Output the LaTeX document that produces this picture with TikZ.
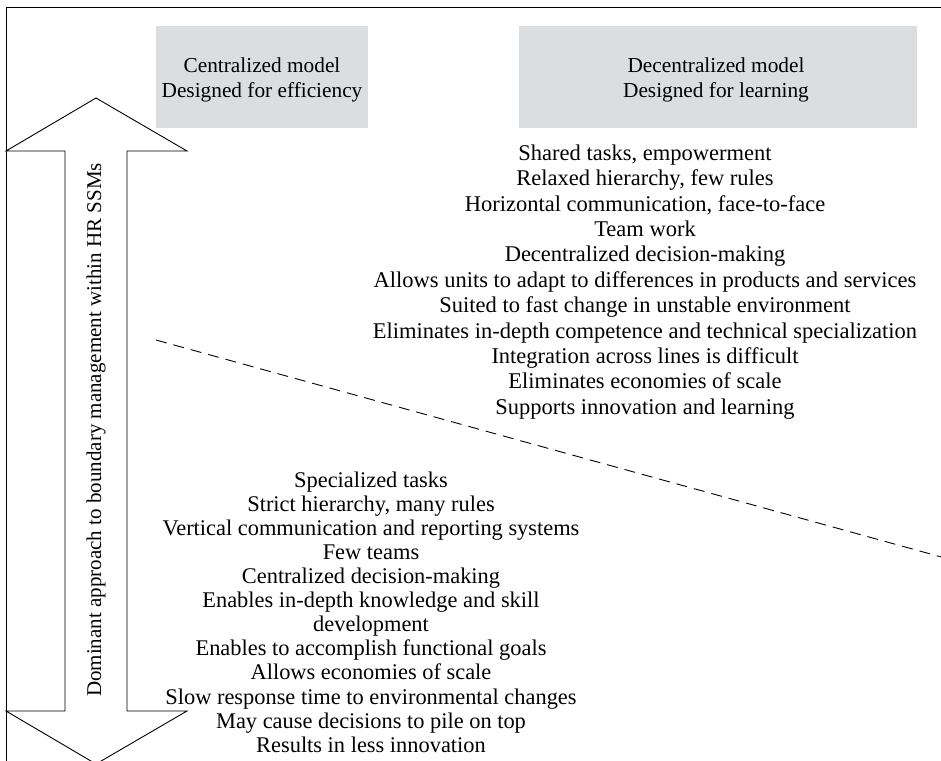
\documentclass[tikz,border=0pt]{standalone}
\usepackage{fontspec}
\setmainfont{Liberation Serif}
\definecolor{boxgray}{RGB}{220,221,223}
\begin{document}
\begin{tikzpicture}[x=1pt,y=-1pt,
  frameline/.style={draw=black,line width=0.9pt},
  headbox/.style={fill=boxgray,minimum width=#1,minimum height=102pt,inner sep=0pt,
    align=center},
  headtext/.style={align=center,inner sep=0pt,font=\fontsize{21.3}{25}\selectfont},
  listtext/.style={align=center,inner sep=0pt},
  splitline/.style={draw=black,line width=0.9pt,dash pattern=on 11pt off 7pt}]
\useasboundingbox (0,0) rectangle (941,760);
\clip (0,0) rectangle (941,760);
% outer frame (only top and left edges fall on the page)
\coordinate (frameTR) at (945,7);
\coordinate (frameTL) at (6,7);
\coordinate (frameBL) at (6,765);
\draw[frameline] (frameTR) -- (frameTL) -- (frameBL);
% column headings
\node[headbox=212pt] (central) at (262,77) {};
\node[headbox=398pt] (decentral) at (718,77) {};
\node[headtext] (centraltxt) at (262,80) {Centralized model\\Designed for efficiency};
\node[headtext] (decentraltxt) at (716,80) {Decentralized model\\Designed for learning};
% double-headed block arrow
\draw[frameline,fill=white] (96,98) -- (187,151) -- (127,151) -- (127,711) -- (187,711)
  -- (96,764) -- (6,711) -- (65,711) -- (65,151) -- (6,151) -- cycle;
\node[rotate=90,inner sep=0pt,font=\fontsize{21}{24}\selectfont] (axis) at (96,430)
  {Dominant approach to boundary management within HR SSMs};
% dividing line
\coordinate (splitA) at (156,340);
\coordinate (splitB) at (945,558);
\draw[splitline] (splitA) -- (splitB);
% characteristics of the decentralized model
\node[listtext,font=\fontsize{22.5}{25.4}\selectfont] (declist) at (645,282) {Shared tasks, empowerment\\
Relaxed hierarchy, few rules\\
Horizontal communication, face-to-face\\
Team work\\
Decentralized decision-making\\
Allows units to adapt to differences in products and services\\
Suited to fast change in unstable environment\\
Eliminates in-depth competence and technical specialization\\
Integration across lines is difficult\\
Eliminates economies of scale\\
Supports innovation and learning};
% characteristics of the centralized model
\node[listtext,font=\fontsize{22.4}{24.1}\selectfont] (cenlist) at (371,612) {Specialized tasks\\
Strict hierarchy, many rules\\
Vertical communication and reporting systems\\
Few teams\\
Centralized decision-making\\
Enables in-depth knowledge and skill\\
development\\
Enables to accomplish functional goals\\
Allows economies of scale\\
Slow response time to environmental changes\\
May cause decisions to pile on top\\
Results in less innovation};
\end{tikzpicture}
\end{document}
